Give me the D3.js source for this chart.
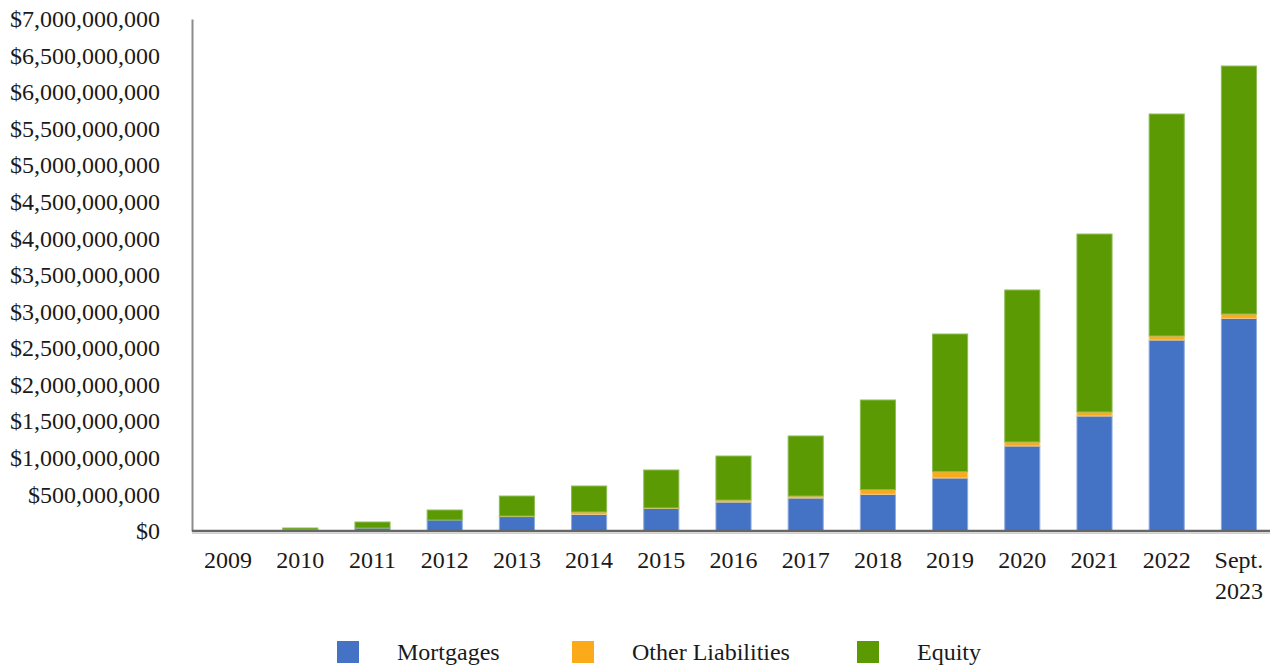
<!DOCTYPE html>
<html>
<head>
<meta charset="utf-8">
<script src="https://cdn.jsdelivr.net/npm/d3@7"></script>
<style>
  body { margin: 0; background: #ffffff; }
  svg text { font-family: "Liberation Serif", "Times New Roman", serif; fill: #1a1a1a; }
</style>
</head>
<body>
<svg id="chart" width="1270" height="668"></svg>
<script>
// years (last one is a partial year)
const categories = ["2009", "2010", "2011", "2012", "2013", "2014", "2015", "2016",
  "2017", "2018", "2019", "2020", "2021", "2022", "Sept. 2023"];

// values in dollars
const mortgages = [0, 15e6, 40e6, 150e6, 200e6, 228e6, 310e6, 396e6, 451e6,
  502e6, 725e6, 1162e6, 1572e6, 2611e6, 2908e6];
const otherLiabilities = [0, 0, 0, 0, 4e6, 32e6, 5e6, 27e6, 27e6,
  63e6, 86e6, 55e6, 55e6, 55e6, 59e6];
const equity = [0, 26e6, 83e6, 137e6, 274e6, 355e6, 519e6, 602e6, 821e6,
  1226e6, 1882e6, 2078e6, 2433e6, 3035e6, 3390e6];

const yTicks = d3.range(0, 7000000001, 500000000);

const seriesNames = ["Mortgages", "Other Liabilities", "Equity"];
const colors = ["#4472c4", "#fbaa19", "#5b9a03"];
const strokes = ["#8fabdd", "#fccb7a", "#8cbc55"];

var svg = d3.select("#chart");
var plotLeft = 192, plotRight = 1275, plotTop = 19, plotBottom = 531;

var x = d3.scaleBand().domain(categories).range([plotLeft, plotRight]).paddingInner(0.5).paddingOuter(0.25);
var y = d3.scaleLinear().domain([0, 7000000000]).range([plotBottom, plotTop]);

var rows = categories.map(function(c, i) {
  return { cat: c, Mortgages: mortgages[i], "Other Liabilities": otherLiabilities[i], Equity: equity[i] };
});
var stacked = d3.stack().keys(seriesNames)(rows);

// bars
var groups = svg.append("g").selectAll("g")
  .data(stacked)
  .enter().append("g")
  .attr("fill", function(d, i) { return colors[i]; })
  .attr("stroke", function(d, i) { return strokes[i]; });

groups.selectAll("rect")
  .data(function(d) { return d.filter(function(s) { return s[1] - s[0] > 0; }); })
  .enter().append("rect")
  .attr("x", function(d) { return x(d.data.cat) + 0.5; })
  .attr("width", x.bandwidth() - 1)
  .attr("y", function(d) { return y(d[1]); })
  .attr("height", function(d) { return Math.max(0.5, y(d[0]) - y(d[1])); })
  .attr("stroke-width", 1);

// y axis
var yAxis = d3.axisLeft(y).tickValues(yTicks).tickSize(0).tickPadding(32)
  .tickFormat(function(v) { return "$" + d3.format(",")(v); });
var gy = svg.append("g").attr("transform", `translate(${plotLeft},0)`).call(yAxis);
gy.select(".domain").attr("stroke", "#8c8c8c").attr("stroke-width", 2);
gy.selectAll("text").attr("font-size", 24).attr("fill", "#1a1a1a");

// x axis
var xAxis = d3.axisBottom(x).tickSize(0).tickPadding(20);
var gx = svg.append("g").attr("transform", `translate(0,${plotBottom})`).call(xAxis);
gx.select(".domain").attr("stroke", "#666666").attr("stroke-width", 2.5)
  .attr("d", `M${plotLeft},0H1270`);
gx.selectAll("text").attr("font-size", 24).attr("fill", "#1a1a1a")
  .each(function(d) {
    var parts = d.split(" ");
    if (parts.length > 1) {
      var t = d3.select(this).text(null);
      parts.forEach(function(p, i) {
        t.append("tspan").attr("x", 0).attr("dy", i === 0 ? "0.71em" : "1.3em").text(p);
      });
      t.attr("dy", null);
    }
  });
svg.append("line")
  .attr("x1", plotLeft).attr("x2", 1270)
  .attr("y1", plotBottom + 2.5).attr("y2", plotBottom + 2.5)
  .attr("stroke", "#d0d0d0").attr("stroke-width", 1);

// legend
var legendX = [337, 572, 857];
var legend = svg.append("g").selectAll("g")
  .data(seriesNames)
  .enter().append("g")
  .attr("transform", function(d, i) { return `translate(${legendX[i]},641)`; });
legend.append("rect")
  .attr("width", 22).attr("height", 22)
  .attr("fill", function(d, i) { return colors[i]; });
legend.append("text")
  .attr("x", 60).attr("y", 11).attr("dy", "0.35em")
  .attr("font-size", 24)
  .text(function(d) { return d; });
</script>
</body>
</html>
